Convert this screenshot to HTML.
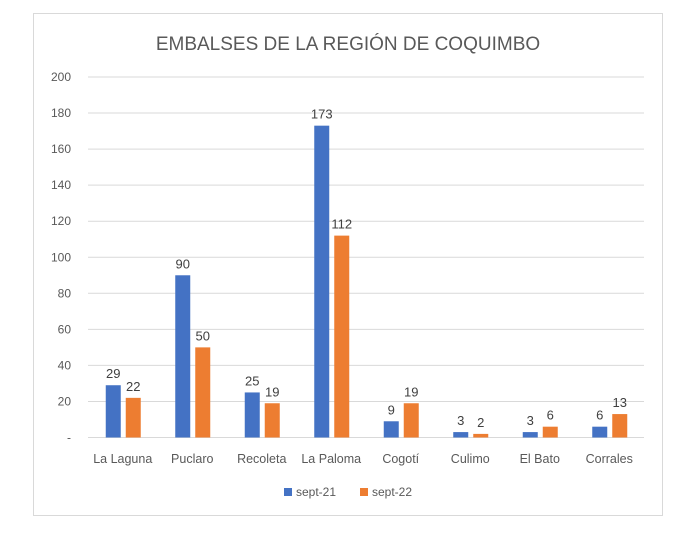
<!DOCTYPE html>
<html><head><meta charset="utf-8"><style>
body{margin:0;background:#fff;width:696px;height:532px;overflow:hidden}
svg{font-family:"Liberation Sans",sans-serif}
</style></head><body>
<svg id="c" width="696" height="532">
<rect x="33.5" y="13.5" width="629" height="502" fill="#fff" stroke="#d9d9d9"/>
<text x="348" y="50" text-anchor="middle" font-size="19" fill="#595959">EMBALSES DE LA REGIÓN DE COQUIMBO</text>
<g id="grid"></g><g id="bars"></g><g id="labels"></g>
<g>
<rect x="284" y="488" width="8" height="8" fill="#4472c4"/>
<text x="296" y="496" font-size="12" fill="#595959">sept-21</text>
<rect x="360" y="488" width="8" height="8" fill="#ed7d31"/>
<text x="372" y="496" font-size="12" fill="#595959">sept-22</text>
</g>
</svg>
<script>
const categories=["La Laguna","Puclaro","Recoleta","La Paloma","Cogotí","Culimo","El Bato","Corrales"];
const sept21=[29,90,25,173,9,3,3,6];
const sept22=[22,50,19,112,19,2,6,13];
const ticks=[0,20,40,60,80,100,120,140,160,180,200];
const ns="http://www.w3.org/2000/svg";
const x0=88,x1=644,y0=437.5,yTop=77,maxV=200;
const y=v=>y0-(v/maxV)*(y0-yTop);
const bw=(x1-x0)/categories.length;
const cx=i=>x0+bw*(i+0.5);
function mk(tag,attrs,parent,txt){const e=document.createElementNS(ns,tag);for(const k in attrs)e.setAttribute(k,attrs[k]);if(txt!==undefined)e.textContent=txt;document.getElementById(parent).appendChild(e);return e;}
ticks.forEach(t=>{
 const l=mk('line',{x1:x0,x2:x1,y1:y(t),y2:y(t),stroke:'#d9d9d9','stroke-width':1},'grid');
 
 
 const tx=mk('text',{x:71,y:y(t)+4,'text-anchor':'end','font-size':12,fill:'#595959'},'grid',t===0?'-':String(t));
 
 
});
categories.forEach((c,i)=>{
 const series=[[sept21[i],'#4472c4',-17,'sept-21'],[sept22[i],'#ed7d31',3,'sept-22']];
 series.forEach(([v,col,off,nm])=>{
  const r=mk('rect',{x:cx(i)+off,y:y(v),width:15,height:y0-y(v),fill:col},'bars');
  
  
  const t=mk('text',{x:cx(i)+off+7.5,y:y(v)-7,'text-anchor':'middle','font-size':13,fill:'#404040'},'labels',String(v));
  
  
 });
 const xl=mk('text',{x:cx(i),y:463,'text-anchor':'middle','font-size':12.5,fill:'#595959'},'labels',c);
 
 
});
</script>
</body></html>
